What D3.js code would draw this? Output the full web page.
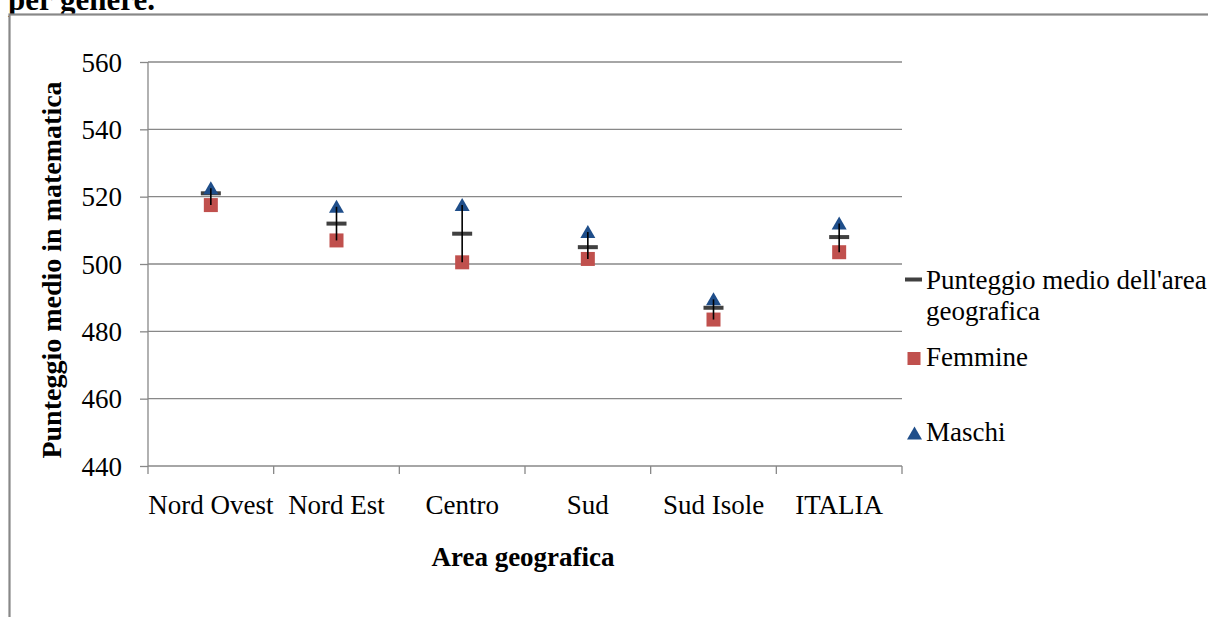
<!DOCTYPE html>
<html><head><meta charset="utf-8">
<script src="https://cdn.jsdelivr.net/npm/d3@7"></script>
<style>
html,body{margin:0;padding:0;background:#fff;}
svg{display:block;}
svg text{font-family:"Liberation Serif","Times New Roman",serif;}
</style></head>
<body>
<svg id="c" width="1208" height="617"></svg>
<script>
const categories = ["Nord Ovest","Nord Est","Centro","Sud","Sud Isole","ITALIA"];
const media    = [521, 512, 509, 505, 487, 508];
const femmine  = [517.5, 507, 500.5, 501.5, 483.5, 503.5];
const maschi   = [522.5, 517, 517.5, 509.5, 489.5, 512];
const yTicks   = [440, 460, 480, 500, 520, 540, 560];
const seriesNames = ["Punteggio medio dell'area geografica", "Femmine", "Maschi"];

const svg = d3.select("#c");
const gray = "#888888";
const FS = 27;

// title (partially cut, as in the reference)
svg.append("text").attr("x", 8).attr("y", 10).attr("font-size", 31).attr("font-weight", "bold").text("per genere.");
// chart frame
svg.append("rect").attr("x", 9.5).attr("y", 14.5).attr("width", 1210).attr("height", 620)
  .attr("fill", "#fff").attr("stroke", gray).attr("stroke-width", 2.2);

const x = d3.scaleBand().domain(categories).range([148, 902]).padding(0);
const y = d3.scaleLinear().domain([440, 560]).range([466, 62]);

// gridlines
svg.append("g").selectAll("line").data(yTicks.filter(t => t > 440)).join("line")
  .attr("x1", 148).attr("x2", 902).attr("y1", d => y(d)).attr("y2", d => y(d))
  .attr("stroke", gray).attr("stroke-width", 1.3);

// y axis
const ya = svg.append("g").attr("transform", "translate(148,0)")
  .call(d3.axisLeft(y).tickValues(yTicks).tickSize(8).tickPadding(18));
ya.selectAll("path,line").attr("stroke", gray).attr("stroke-width", 1.3);
ya.select(".domain").attr("d", `M0,${y(560)}V${y(440)}`);
ya.selectAll("text").attr("font-size", FS).attr("fill", "#000").attr("dy", "0.34em");

// x axis
const xa = svg.append("g").attr("transform", `translate(0,${y(440)})`)
  .call(d3.axisBottom(x).tickSize(0).tickPadding(29));
xa.select(".domain").attr("d", `M148,0H902`).attr("stroke", gray).attr("stroke-width", 1.3);
xa.selectAll("text").attr("font-size", FS).attr("fill", "#000");
const bounds = categories.map(c => x(c)).concat([x(categories[categories.length-1]) + x.bandwidth()]);
xa.append("g").selectAll("line").data(bounds).join("line")
  .attr("x1", d => d).attr("x2", d => d).attr("y1", 0).attr("y2", 8)
  .attr("stroke", gray).attr("stroke-width", 1.3);

// axis titles
svg.append("text").attr("x", 523).attr("y", 566).attr("text-anchor", "middle")
  .attr("font-size", FS).attr("font-weight", "bold").text("Area geografica");
svg.append("text").attr("transform", `translate(61,270) rotate(-90)`).attr("text-anchor", "middle")
  .attr("font-size", 28).attr("font-weight", "bold").text("Punteggio medio in matematica");

const cx = c => x(c) + x.bandwidth() / 2;
const data = categories.map((c, i) => ({c, m: media[i], f: femmine[i], s: maschi[i]}));
const tri = (px, py) => `M${px},${py-7}L${px+7.5},${py+6}L${px-7.5},${py+6}Z`;

const marks = svg.append("g");
marks.selectAll(".mean").data(data).join("rect").attr("class", "mean")
  .attr("x", d => cx(d.c) - 10).attr("y", d => y(d.m) - 2).attr("width", 20).attr("height", 4)
  .attr("fill", "#404040");
marks.selectAll(".fem").data(data).join("rect").attr("class", "fem")
  .attr("x", d => cx(d.c) - 7).attr("y", d => y(d.f) - 7).attr("width", 14).attr("height", 14)
  .attr("fill", "#C0504D");
marks.selectAll(".mas").data(data).join("path").attr("class", "mas")
  .attr("d", d => tri(cx(d.c), y(d.s))).attr("fill", "#1F4E8A");
marks.selectAll(".rng").data(data).join("line").attr("class", "rng")
  .attr("x1", d => cx(d.c)).attr("x2", d => cx(d.c)).attr("y1", d => y(d.s)).attr("y2", d => y(d.f))
  .attr("stroke", "#000").attr("stroke-width", 1.6);

// legend
const lg = svg.append("g");
lg.append("rect").attr("x", 905).attr("y", 277.5).attr("width", 17).attr("height", 4).attr("fill", "#404040");
lg.append("text").attr("x", 926).attr("y", 289).attr("font-size", FS).text("Punteggio medio dell'area");
lg.append("text").attr("x", 926).attr("y", 320).attr("font-size", FS).text("geografica");
lg.append("rect").attr("x", 907.5).attr("y", 352).attr("width", 13).attr("height", 13).attr("fill", "#C0504D");
lg.append("text").attr("x", 926).attr("y", 366).attr("font-size", FS).text(seriesNames[1]);
lg.append("path").attr("d", tri(914.5, 433.5)).attr("fill", "#1F4E8A");
lg.append("text").attr("x", 926).attr("y", 441).attr("font-size", FS).text(seriesNames[2]);
</script>
</body></html>
